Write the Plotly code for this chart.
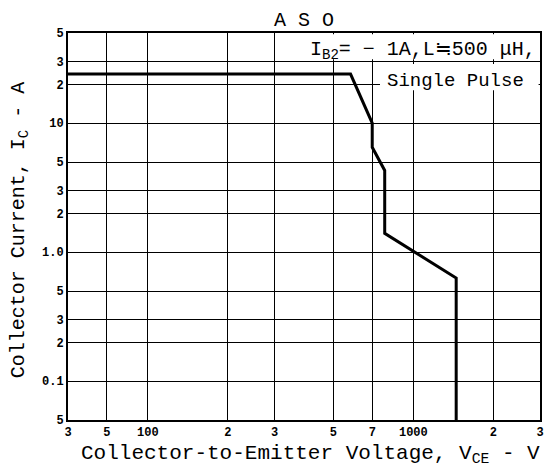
import plotly.graph_objects as go
import numpy as np

# SOA curve (V_CE in V, I_C in A)
vce = [50, 580, 700, 700, 780, 780, 1450, 1450]
ic = [24, 24, 10, 6.5, 4.3, 1.4, 0.63, 0.05]

x_tickvals = [50, 70, 100, 200, 300, 500, 700, 1000, 2000, 3000]
x_ticktext = ["3", "5", "100", "2", "3", "5", "7", "1000", "2", "3"]
y_tickvals = [50, 30, 20, 10, 5, 3, 2, 1, 0.5, 0.3, 0.2, 0.1, 0.05]
y_ticktext = ["5", "3", "2", "10", "5", "3", "2", "1.0", "5", "3", "2", "0.1", "5"]

FONT = "Liberation Mono"

fig = go.Figure()
fig.add_trace(go.Scatter(x=vce, y=ic, mode="lines",
                         line=dict(color="black", width=3), showlegend=False,
                         hoverinfo="skip"))

fig.update_layout(
    width=545, height=470,
    margin=dict(l=68, r=5, t=33, b=50, autoexpand=False),
    paper_bgcolor="white", plot_bgcolor="white",
    font=dict(family=FONT, color="black", size=13),
    title=dict(text="A S O", xref="paper", x=0.5, xanchor="center",
               yref="container", y=0.96, yanchor="middle",
               font=dict(family=FONT, size=20)),
    xaxis=dict(type="log", range=[np.log10(50), np.log10(3000)],
               tickvals=x_tickvals, ticktext=x_ticktext, ticks="", automargin=False,
               showgrid=True, gridcolor="black", gridwidth=1.3,
               showline=True, linecolor="black", linewidth=2, mirror=True,
               tickfont=dict(family=FONT, size=12, weight="bold"), zeroline=False),
    yaxis=dict(type="log", range=[np.log10(0.05), np.log10(50)],
               tickvals=y_tickvals, ticktext=y_ticktext, ticks="", automargin=False,
               showgrid=True, gridcolor="black", gridwidth=1.3,
               showline=True, linecolor="black", linewidth=2, mirror=True,
               tickfont=dict(family=FONT, size=12, weight="bold"), zeroline=False),
)

# axis titles
fig.add_annotation(xref="paper", yref="paper", x=0.513, y=-0.09, xanchor="center", yanchor="middle",
                   text="Collector-to-Emitter Voltage, V<sub>CE</sub> - V", showarrow=False,
                   font=dict(family=FONT, size=21))
fig.add_annotation(xref="paper", yref="paper", x=-0.104, y=0.49, xanchor="center", yanchor="middle",
                   text="Collector Current, I<sub>C</sub> - A", showarrow=False, textangle=-90,
                   font=dict(family=FONT, size=20))

# white boxes behind the condition note
fig.add_shape(type="rect", xref="paper", yref="paper", x0=0.4915, x1=0.997, y0=0.932, y1=0.997,
              fillcolor="white", line=dict(width=0), layer="above")
fig.add_shape(type="rect", xref="paper", yref="paper", x0=0.661, x1=0.997, y0=0.852, y1=0.92,
              fillcolor="white", line=dict(width=0), layer="above")

fig.add_annotation(xref="paper", yref="paper", x=0.995, y=0.955, xanchor="right", yanchor="middle",
                   text="I<sub>B2</sub>= − 1A,L≒500 μH,", showarrow=False,
                   font=dict(family=FONT, size=20))
fig.add_annotation(xref="paper", yref="paper", x=0.97, y=0.877, xanchor="right", yanchor="middle",
                   text="Single Pulse", showarrow=False,
                   font=dict(family=FONT, size=19))

fig.write_html("out.html", config={"displayModeBar": False},
               post_script="document.body.style.margin='0';document.body.style.padding='0';")
